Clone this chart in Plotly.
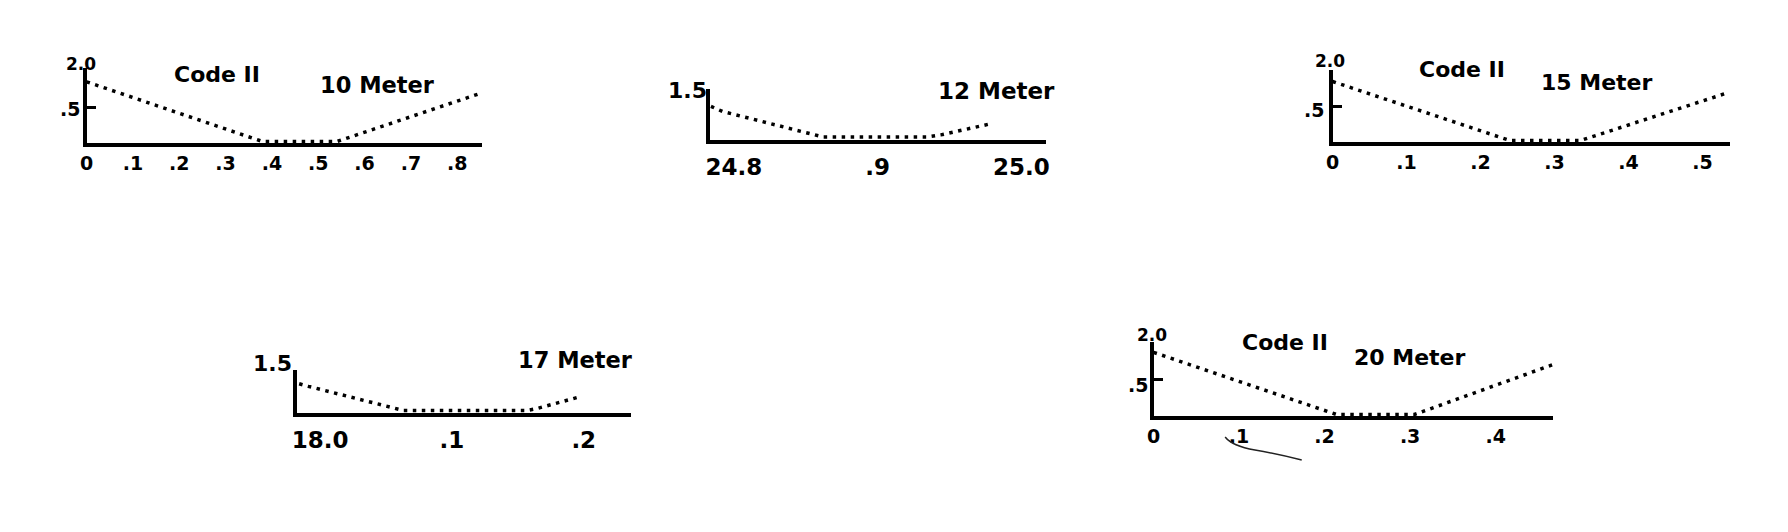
import plotly.graph_objects as go

W, H = 1788, 532

# ---------------- data (SWR vs frequency) ----------------
freq_10 = [0.0, 0.38, 0.54, 0.85]
swr_10 = [1.85, 1.02, 1.02, 1.69]

freq_12 = [24.784, 24.792, 24.862, 24.935, 24.944, 24.979]
swr_12 = [1.33, 1.28, 1.03, 1.03, 1.05, 1.16]

freq_15 = [0.0, 0.24, 0.335, 0.536]
swr_15 = [1.84, 1.02, 1.02, 1.69]

freq_17 = [17.984, 17.991, 18.063, 18.157, 18.164, 18.195]
swr_17 = [1.34, 1.31, 1.03, 1.03, 1.05, 1.18]

freq_20 = [0.0, 0.214, 0.305, 0.466]
swr_20 = [1.86, 1.02, 1.02, 1.69]

ticks_10 = [0, 0.1, 0.2, 0.3, 0.4, 0.5, 0.6, 0.7, 0.8]
labels_10 = ["0", ".1", ".2", ".3", ".4", ".5", ".6", ".7", ".8"]
ticks_12 = [24.8, 24.9, 25.0]
labels_12 = ["24.8", ".9", "25.0"]
ticks_15 = [0, 0.1, 0.2, 0.3, 0.4, 0.5]
labels_15 = ["0", ".1", ".2", ".3", ".4", ".5"]
ticks_17 = [18.0, 18.1, 18.2]
labels_17 = ["18.0", ".1", ".2"]
ticks_20 = [0, 0.1, 0.2, 0.3, 0.4]
labels_20 = ["0", ".1", ".2", ".3", ".4"]

band_titles = ["10 Meter", "12 Meter", "15 Meter", "17 Meter", "20 Meter"]
code_label = "Code II"

FONT = "DejaVu Sans"

# panel geometry (pixels): x-origin px, x value at origin, px per unit,
# x domain px, baseline px, px per SWR unit, top px
panels = [
    dict(x=freq_10, y=swr_10, tv=ticks_10, tt=labels_10, p0=80, v0=0.0, ppu=466,
         xd=(80, 478), base=143, ppy=72, top=68, fs=19, tl=0, ytick=True),
    dict(x=freq_12, y=swr_12, tv=ticks_12, tt=labels_12, p0=731, v0=24.8, ppu=1445,
         xd=(707, 1045), base=140, ppy=102, top=89, fs=23, tl=3, ytick=False),
    dict(x=freq_15, y=swr_15, tv=ticks_15, tt=labels_15, p0=1333, v0=0.0, ppu=744,
         xd=(1333, 1733), base=142, ppy=72, top=70, fs=19, tl=0, ytick=True),
    dict(x=freq_17, y=swr_17, tv=ticks_17, tt=labels_17, p0=315, v0=18.0, ppu=1325,
         xd=(292, 628), base=413, ppy=86, top=370, fs=23, tl=3, ytick=False),
    dict(x=freq_20, y=swr_20, tv=ticks_20, tt=labels_20, p0=1153, v0=0.0, ppu=860,
         xd=(1153, 1555), base=416, ppy=74, top=342, fs=19, tl=0, ytick=True),
]

fig = go.Figure()
layout = {}
for i, p in enumerate(panels, start=1):
    xs = "" if i == 1 else str(i)
    fig.add_trace(go.Scatter(
        x=p["x"], y=p["y"], mode="lines",
        line=dict(color="black", width=3.5, dash="3.5px,5.5px"),
        xaxis="x" + xs, yaxis="y" + xs, showlegend=False, hoverinfo="skip"))
    xr = [p["v0"] + (p["xd"][0] - p["p0"]) / p["ppu"],
          p["v0"] + (p["xd"][1] - p["p0"]) / p["ppu"]]
    yr = [1.0, 1.0 + (p["base"] - p["top"]) / p["ppy"]]
    layout["xaxis" + xs] = dict(
        domain=[p["xd"][0] / W, p["xd"][1] / W], range=xr, anchor="y" + xs,
        showline=True, linewidth=4, linecolor="black", showgrid=False, zeroline=False,
        tickvals=p["tv"], ticktext=p["tt"], ticks="outside" if p["tl"] else "",
        ticklen=p["tl"] or 5, tickcolor="rgba(0,0,0,0)",
        tickfont=dict(family=FONT, size=p["fs"], color="black", weight="bold"),
        fixedrange=True)
    layout["yaxis" + xs] = dict(
        domain=[1 - p["base"] / H, 1 - p["top"] / H], range=yr, anchor="x" + xs,
        showline=True, linewidth=4, linecolor="black", showgrid=False, zeroline=False,
        tickvals=[1.5] if p["ytick"] else [], ticks="inside" if p["ytick"] else "",
        ticklen=9, tickwidth=3, tickcolor="black", showticklabels=False,
        fixedrange=True)

def ann(text, cx, cy, size, xanchor="center"):
    return dict(text=text, x=cx / W, y=1 - cy / H, xref="paper", yref="paper",
                xanchor=xanchor, yanchor="middle", showarrow=False,
                font=dict(family=FONT, size=size, color="black", weight="bold"))

annotations = [
    ann(code_label, 211, 74, 22), ann(band_titles[0], 373, 85, 22.5),
    ann(band_titles[1], 995, 91, 23),
    ann(code_label, 1463, 70, 22), ann(band_titles[2], 1599, 82, 22),
    ann(band_titles[3], 572, 360, 22.5),
    ann(code_label, 1285, 342, 22), ann(band_titles[4], 1411, 357, 22),
    # y-axis labels
    ann("2.0", 74.5, 64, 17), ann(".5", 63, 109, 19),
    ann("1.5", 684, 90, 22),
    ann("2.0", 1330, 61, 17), ann(".5", 1314, 110, 19),
    ann("1.5", 267, 363, 22),
    ann("2.0", 1151, 335, 17), ann(".5", 1137, 385, 19),
]

# pencil mark under the 20 m ".1" label
shapes = [dict(type="path", xref="paper", yref="paper",
               path="M {:.5f},{:.5f} Q {:.5f},{:.5f} {:.5f},{:.5f} T {:.5f},{:.5f}".format(
                   1225 / W, 1 - 437 / H, 1232 / W, 1 - 446 / H, 1255 / W, 1 - 450 / H,
                   1302 / W, 1 - 460 / H),
               line=dict(color="#222222", width=1.5))]

fig.update_layout(
    width=W, height=H, margin=dict(l=0, r=0, t=0, b=0),
    paper_bgcolor="white", plot_bgcolor="white",
    annotations=annotations, shapes=shapes, **layout)

fig.write_html("out.html", config={"displayModeBar": False},
               post_script="document.body.style.margin='0';document.body.style.overflow='hidden';")
